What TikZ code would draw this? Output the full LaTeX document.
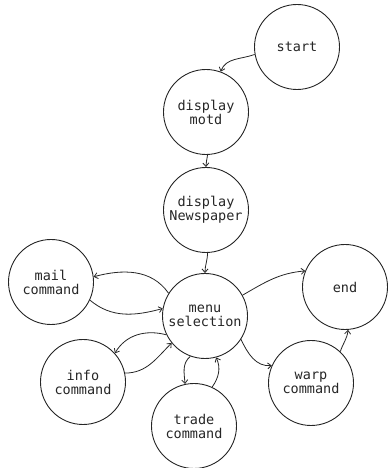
\documentclass[tikz,border=0pt]{standalone}
\usepackage{fontspec}
\setmonofont{DejaVu Sans Mono}
\usetikzlibrary{arrows.meta}
\begin{document}
\begin{tikzpicture}[x=1pt,y=1pt,
  state/.style={circle,draw=black!85,line width=0.9pt,minimum size=85pt,inner sep=0pt,
    align=center,font=\ttfamily\fontsize{13.5}{14}\selectfont,text=black!85},
  edge/.style={draw=black!85,line width=0.8pt,-{Straight Barb[length=3.5pt,width=6pt]}}]
\useasboundingbox (0,0) rectangle (388,468);
\node[state] (start) at (297,421) {start};
\node[state] (motd) at (206,356) {display\\motd};
\node[state] (news) at (206,258) {display\\Newspaper};
\node[state] (mail) at (51,186) {mail\\command};
\node[state] (menu) at (205,152) {menu\\selection};
\node[state] (end) at (345,181) {end};
\node[state] (info) at (83,86) {info\\command};
\node[state] (trade) at (194,42) {trade\\command};
\node[state] (warp) at (311,85) {warp\\command};
\draw[edge] (start.190) to[out=200,in=70] (motd.70);
\draw[edge] (motd.-88) to[out=-95,in=92] (news.north);
\draw[edge] (news.-88) to[out=-90,in=90] (menu.north);
\draw[edge] (menu.148) to[out=125,in=15] (mail.7);
\draw[edge] (mail.-25) to[out=-40,in=195] (menu.170);
\draw[edge] (menu.206) to[out=165,in=60] (info.42);
\draw[edge] (info.12) to[out=0,in=225] (menu.219);
\draw[edge] (menu.250) to[out=220,in=95] (trade.102);
\draw[edge] (trade.65) to[out=55,in=-65] (menu.285);
\draw[edge] (menu.-33) to[out=-65,in=185] (warp.156);
\draw[edge] (menu.29) to[out=30,in=185] (end.158);
\draw[edge] (warp.47) to[out=72,in=-95] (end.-86);
\end{tikzpicture}
\end{document}
